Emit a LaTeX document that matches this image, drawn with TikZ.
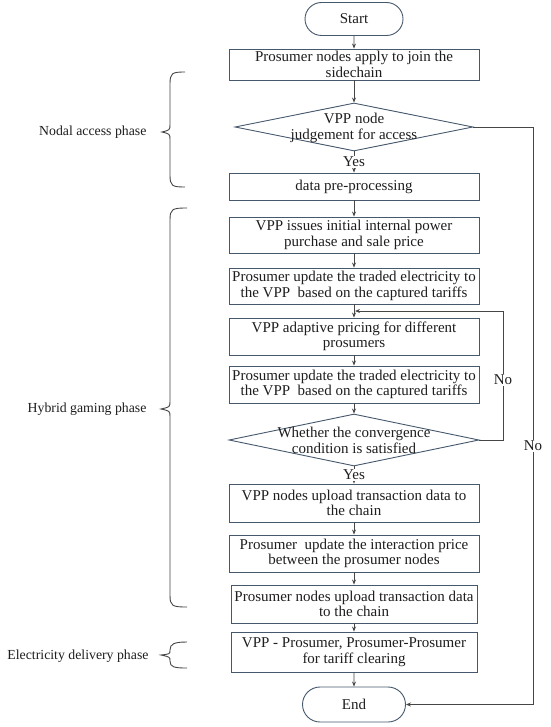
\documentclass[tikz,border=0pt]{standalone}
\usepackage{fontspec}
\setmainfont{Liberation Serif}
\usetikzlibrary{arrows.meta,shapes.geometric,shapes.misc}
\definecolor{boxc}{RGB}{70,88,108}
\definecolor{linec}{RGB}{70,70,70}
\definecolor{txtc}{RGB}{30,30,30}
\tikzset{
  every node/.style={font=\fontsize{15}{15.5}\selectfont, text=txtc},
  procbox/.style={draw=boxc, line width=0.9pt, rectangle, minimum width=250pt, align=center, inner sep=1pt},
  termbox/.style={draw=boxc, line width=0.9pt, rounded rectangle, minimum width=100pt, minimum height=33pt, inner sep=1pt},
  decbox/.style={draw=boxc, line width=0.9pt, diamond, inner sep=0pt},
  conn/.style={draw=linec, line width=0.9pt, -{Stealth[length=5pt,width=4pt]}},
  bracec/.style={draw=linec, line width=0.9pt},
  lbl/.style={fill=white, inner sep=1pt},
  phase/.style={anchor=east, font=\fontsize{13.8}{15}\selectfont},
}
\begin{document}
\begin{tikzpicture}[x=1pt,y=-1pt]
\useasboundingbox[fill=white] (0,0) rectangle (550,727);
% nodes
\node[termbox] (start) at (354,19) {Start};
\node[procbox, minimum height=31pt] (b1) at (354,64.5) {Prosumer nodes apply to join the\\sidechain};
\node[decbox, minimum width=238pt, minimum height=48pt] (d1) at (354,127) {};
\node (d1t) at (354,128) [align=center] {VPP node\\judgement for access};
\node[procbox, minimum height=27pt] (b2) at (354,186.5) {data pre-processing};
\node[procbox, minimum height=36pt] (b3) at (354,235) {VPP issues initial internal power\\purchase and sale price};
\node[procbox, minimum height=36pt] (b4) at (354,286) {Prosumer update the traded electricity to\\the VPP\ \ based on the captured tariffs};
\node[procbox, minimum height=37pt] (b5) at (354,336.5) {VPP adaptive pricing for different\\prosumers};
\node[procbox, minimum height=37pt] (b6) at (354,384.5) {Prosumer update the traded electricity to\\the VPP\ \ based on the captured tariffs};
\node[decbox, minimum width=250pt, minimum height=52pt] (d2) at (354,440) {};
\node (d2t) at (354,440.5) [align=center] {Whether the convergence\\condition is satisfied};
\node[procbox, minimum height=38pt] (b7) at (354,503) {VPP nodes upload transaction data to\\the chain};
\node[procbox, minimum height=37pt] (b8) at (354,553.5) {Prosumer\ \ update the interaction price\\between the prosumer nodes};
\node[procbox, minimum width=246pt, minimum height=38pt] (b9) at (354,604) {Prosumer nodes upload transaction data\\to the chain};
\node[procbox, minimum width=246pt, minimum height=40pt] (b10) at (354,652) {VPP - Prosumer, Prosumer-Prosumer\\for tariff clearing};
\node[termbox, minimum width=105pt, minimum height=35pt] (end) at (354,704.5) {End};
% connectors
\draw[conn] (start) -- (b1);
\draw[conn] (b1) -- (d1);
\draw[conn] (d1) -- node[lbl, pos=0.5] {Yes} (b2);
\draw[conn] (b2) -- (b3);
\draw[conn] (b3) -- (b4);
\draw[conn] (b4) -- (b5);
\draw[conn] (b5) -- (b6);
\draw[conn] (b6) -- (d2);
\draw[conn] (d2) -- node[lbl, pos=0.5] {Yes} (b7);
\draw[conn] (b7) -- (b8);
\draw[conn] (b8) -- (b9);
\draw[conn] (b9) -- (b10);
\draw[conn] (b10) -- (end);
% feedback loop
\coordinate (loopc) at (503,311);
\coordinate (loopj) at (355,311);
\draw[conn] (d2.east) -| node[lbl, pos=0.733] {No} (loopc) -- (loopj);
% reject path
\coordinate (rejc) at (533,127);
\draw[conn] (d1.east) -- (rejc) |- node[lbl, pos=0.276] {No} (end.east);
% braces
\draw[bracec] (185,72) .. controls (172,72) and (170,73) .. (170,84) -- (170,124) .. controls (170,130) .. (162,132) .. controls (170,134) .. (170,140) -- (170,175) .. controls (170,186) and (172,187) .. (185,187);
\draw[bracec] (187,208) .. controls (172,208) and (170,209) .. (170,220) -- (170,401) .. controls (170,407) .. (161,409) .. controls (170,411) .. (170,417) -- (170,595) .. controls (170,606) and (172,607) .. (187,607);
\draw[bracec] (187,642) .. controls (174,642) and (170,644) .. (170,650) .. controls (170,654) .. (161,655) .. controls (170,657) .. (170,661) .. controls (170,667) and (174,668) .. (187,668);
% phase labels
\node[phase] (p1) at (150,132) {Nodal access phase};
\node[phase] (p2) at (150,409) {Hybrid gaming phase};
\node[phase] (p3) at (152,656) {Electricity delivery phase};
\end{tikzpicture}
\end{document}
